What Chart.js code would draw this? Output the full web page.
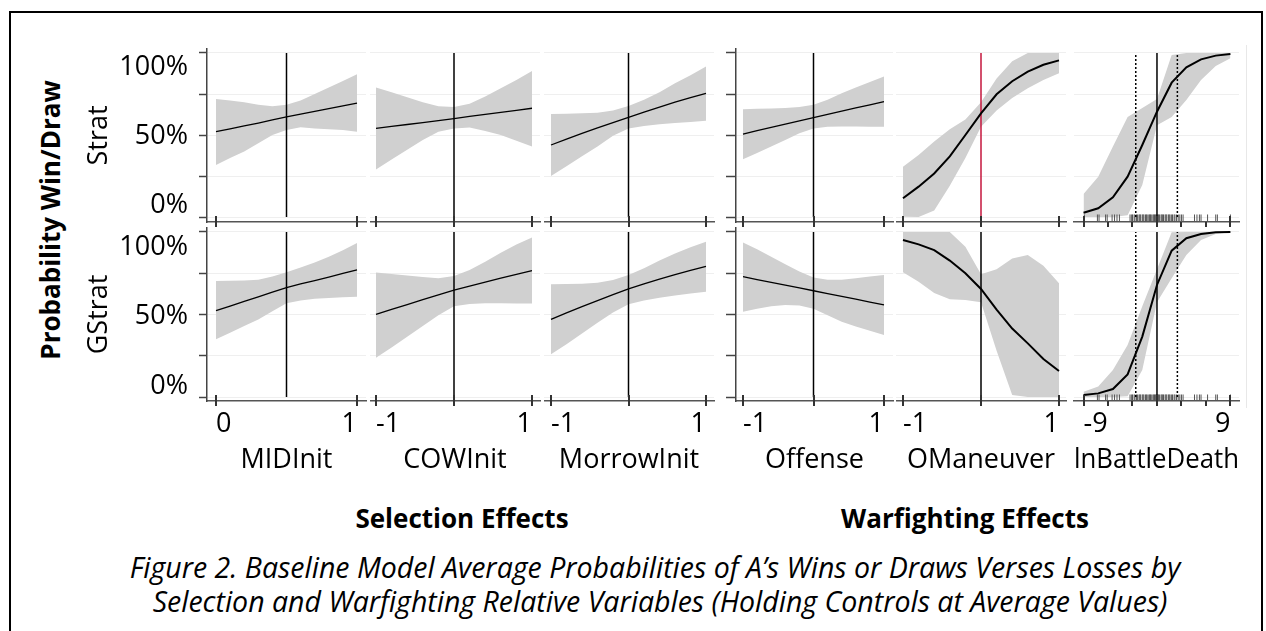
<!DOCTYPE html>
<html>
<head>
<meta charset="utf-8">
<title>Figure 2</title>
<script src="https://cdn.jsdelivr.net/npm/chart.js@4.4.1/dist/chart.umd.min.js"></script>
<style>
  html, body { margin: 0; padding: 0; background: #fff; }
  body { width: 1266px; height: 631px; position: relative; overflow: hidden; font-family: "Open Sans", sans-serif; color: #000; }
  canvas { position: absolute; }
  .frame { position: absolute; left: 9px; top: 11px; width: 1254px; height: 660px; border: 2px solid #000; box-sizing: border-box; }
  .edge { position: absolute; left: 1246px; top: 45px; width: 1px; height: 363px; background: #e8e8e8; }
  .txt { position: absolute; white-space: nowrap; transform: translate(-50%, -50%); line-height: 1; }
  .rot { transform: translate(-50%, -50%) rotate(-90deg); }
  .bold { font-weight: bold; font-size: 26px; }
  .cap { font-style: italic; font-size: 28.5px; }
</style>
</head>
<body>
<div class="frame"></div>
<div class="edge"></div>
<div class="txt rot bold" style="left:50px; top:220px;">Probability Win/Draw</div>
<div class="txt bold" style="left:462px; top:518px;">Selection Effects</div>
<div class="txt bold" style="left:965px; top:518px;">Warfighting Effects</div>
<div class="txt cap" style="left:655px; top:567px;">Figure 2. Baseline Model Average Probabilities of A’s Wins or Draws Verses Losses by</div>
<div class="txt cap" style="left:660px; top:601px;">Selection and Warfighting Relative Variables (Holding Controls at Average Values)</div>

<script>
const variables = ['MIDInit', 'COWInit', 'MorrowInit', 'Offense', 'OManeuver', 'lnBattleDeath'];
const models = ['Strat', 'GStrat'];
const yTickValues = [0, 25, 50, 75, 100];
const yLabelValues = [0, 50, 100];

// x grids the predictions were evaluated at
const midInitX = [0, 0.1, 0.2, 0.3, 0.4, 0.5, 0.6, 0.7, 0.8, 0.9, 1];
const unitX = [-1, -0.8, -0.6, -0.4, -0.2, 0, 0.2, 0.4, 0.6, 0.8, 1];
const battleDeathX = [-9, -7.2, -5.4, -3.6, -1.8, 0, 1.8, 3.6, 5.4, 7.2, 9];

// Strat row (probability %, mean / upper / lower)
const midInitStrat = [52, 53.8, 55.5, 57.3, 59.2, 61, 62.7, 64.4, 66.1, 67.8, 69.5];
const midInitStratHi = [72, 71, 70, 68.5, 67.5, 68.5, 71, 75, 79, 83, 87];
const midInitStratLo = [31.7, 36, 40, 45, 50, 53, 54.7, 54, 53.5, 53, 52];

const cowInitStrat = [54, 55.2, 56.4, 57.6, 58.8, 60, 61.3, 62.6, 63.8, 65, 66.3];
const cowInitStratHi = [79, 76, 73, 70, 67.5, 67, 69, 73.5, 78.5, 83.5, 89];
const cowInitStratLo = [29, 35, 41, 47, 52, 54, 54.5, 52.5, 50, 46.5, 43];

const morrowInitStrat = [43.9, 47.5, 51, 54.3, 57.6, 60.8, 64, 67, 70, 72.8, 75.4];
const morrowInitStratHi = [62.8, 63, 63.3, 63.6, 65, 67.7, 71.5, 76, 81.5, 86.5, 91.7];
const morrowInitStratLo = [25, 31, 37, 43, 49.5, 54, 55.5, 56.5, 57.3, 58, 58.7];

const offenseStrat = [50.6, 52.6, 54.6, 56.6, 58.6, 60.6, 62.6, 64.5, 66.5, 68.4, 70.3];
const offenseStratHi = [65.7, 66, 66.2, 66.5, 67, 68.5, 71.5, 75.5, 79, 82.3, 85.6];
const offenseStratLo = [35.2, 39, 43, 47, 51, 54, 55, 55.2, 55.2, 55.1, 55];

const oManeuverStrat = [11.4, 18.5, 26.5, 37, 50, 63.2, 74.8, 82.8, 88.6, 92.8, 95.5];
const oManeuverStratHi = [30.7, 37.8, 46, 53.5, 59.5, 70, 84.5, 95, 100, 100, 100];
const oManeuverStratLo = [0.2, 0, 4, 19, 36, 55, 65, 72.5, 78.5, 83.5, 87.6];

const battleDeathStrat = [2.6, 5.3, 12, 24.6, 43.9, 64.2, 81.9, 91.3, 96.1, 98.4, 99.4];
const battleDeathStratHi = [14, 24.6, 43, 61, 66.5, 72, 98.8, 100, 100, 100, 100];
const battleDeathStratLo = [0, 0, 0, 1, 19.5, 56, 61, 71.3, 83.5, 92, 96.8];

// GStrat row
const midInitGStrat = [52.3, 55.1, 57.9, 60.7, 63.5, 66.3, 68.5, 70.6, 72.7, 74.9, 77];
const midInitGStratHi = [70.3, 70.4, 70.6, 71, 73, 75.6, 78.5, 81.5, 85, 89, 93.3];
const midInitGStratLo = [35, 39, 43, 47, 52, 56.8, 58.5, 59.5, 60, 60.5, 60.8];

const cowInitGStrat = [50.1, 53.1, 56, 59, 61.9, 64.8, 67.2, 69.6, 72, 74.3, 76.6];
const cowInitGStratHi = [75.5, 74.6, 73.7, 72.8, 71.9, 73.3, 77, 82, 87.5, 92.5, 96.6];
const cowInitGStratLo = [23.8, 30, 36.5, 43, 49.5, 55, 56.3, 56.8, 56.8, 56.7, 56.6];

const morrowInitGStrat = [47.1, 51, 54.8, 58.4, 62, 65.5, 68.5, 71.4, 74.2, 76.8, 79.2];
const morrowInitGStratHi = [68.3, 68.5, 68.7, 69.3, 70.9, 73.9, 78, 82.8, 87, 90.8, 94.1];
const morrowInitGStratLo = [25.9, 32, 38.5, 45, 51.2, 56.2, 58.5, 60.2, 61.5, 62.8, 63.8];

const offenseGStrat = [72.9, 71.2, 69.5, 67.8, 66.1, 64.4, 62.7, 61, 59.3, 57.5, 55.8];
const offenseGStratHi = [93.7, 89.5, 85, 80.5, 76, 72.5, 71, 71, 72, 73, 73.9];
const offenseGStratLo = [51.7, 53.5, 55, 55.8, 55.5, 53.5, 49.5, 45.6, 42.8, 40.2, 37.6];

const oManeuverGStrat = [95.2, 92.5, 89, 82.7, 75, 65.5, 53, 41.5, 32.5, 23, 15.8];
const oManeuverGStratHi = [100, 100, 100, 100, 91, 74.4, 77.5, 84, 86, 79.5, 68.9];
const oManeuverGStratLo = [75.6, 69.9, 63, 59.3, 58.8, 57.4, 28, 1.2, 0, 0, 0];

const battleDeathGStrat = [1.2, 2.2, 4.8, 13.7, 36.6, 67.9, 88.7, 96.2, 98.8, 99.8, 100];
const battleDeathGStratHi = [3.2, 6.3, 16.4, 31.5, 55, 77.5, 99.8, 100, 100, 100, 100];
const battleDeathGStratLo = [0, 0, 0, 0.5, 16.4, 57.4, 72, 86, 95.2, 98.8, 99.8];

// reference lines and rug of observed lnBattleDeath
const refValues = [0.5, 0, 0, 0, 0, 0];
const battleDeathDotted = [-2.6, 2.5];
const battleDeathRug = [-8.9, -7.3, -7.1, -6.3, -6.1, -5.5, -5.2, -4.9, -4.6,
  -3.3, -3.1, -3.0, -2.8, -2.7, -2.5, -2.4, -2.2, -2.1, -2.0, -1.8, -1.7, -1.6, -1.4, -1.3,
  -1.2, -1.0, -0.9, -0.8, -0.7, -0.5, -0.4, -0.3, -0.2, -0.1, 0, 0.1, 0.2, 0.3, 0.5, 0.6,
  0.7, 0.8, 1.0, 1.1, 1.2, 1.4, 1.5, 1.6, 1.8, 1.9, 2.1, 2.2, 2.4, 2.6, 2.8, 3.0, 3.2,
  4.6, 4.9, 5.2, 5.4, 6.2, 7.2, 7.4, 9];

const xValues = [midInitX, unitX, unitX, unitX, unitX, battleDeathX];
const xTickSets = [[0, 1], [-1, 0, 1], [-1, 0, 1], [-1, 0, 1], [-1, 0, 1], [-9, -6, -3, 0, 3, 6, 9]];
const xLabelled = [[0, 1], [-1, 1], [-1, 1], [-1, 1], [-1, 1], [-9, 9]];
const xMinorTicks = [[], [], [], [], [], [-6, -3, 3, 6]];

const means = [
  [midInitStrat, cowInitStrat, morrowInitStrat, offenseStrat, oManeuverStrat, battleDeathStrat],
  [midInitGStrat, cowInitGStrat, morrowInitGStrat, offenseGStrat, oManeuverGStrat, battleDeathGStrat]
];
const highs = [
  [midInitStratHi, cowInitStratHi, morrowInitStratHi, offenseStratHi, oManeuverStratHi, battleDeathStratHi],
  [midInitGStratHi, cowInitGStratHi, morrowInitGStratHi, offenseGStratHi, oManeuverGStratHi, battleDeathGStratHi]
];
const lows = [
  [midInitStratLo, cowInitStratLo, morrowInitStratLo, offenseStratLo, oManeuverStratLo, battleDeathStratLo],
  [midInitGStratLo, cowInitGStratLo, morrowInitGStratLo, offenseGStratLo, oManeuverGStratLo, battleDeathGStratLo]
];

// page layout: axis extent L..R and where the data range sits a..b
const colBox = [
  { L: 207, R: 366, a: 216, b: 357 },
  { L: 370, R: 540, a: 376, b: 532 },
  { L: 544, R: 714, a: 551, b: 706 },
  { L: 736, R: 893, a: 743, b: 884 },
  { L: 896, R: 1066, a: 903, b: 1059 },
  { L: 1069, R: 1242, a: 1079, b: 1233 }
];
// T..B is the axis box, top/zero the 100% and 0% lines, labTop/labZero where the tick labels sit
const rowBox = [
  { T: 49, B: 222, top: 53, zero: 217, labTop: 67, labZero: 205 },
  { T: 228, B: 401, top: 232, zero: 397, labTop: 247, labZero: 386 }
];

Chart.defaults.font.family = "'Open Sans', sans-serif";
Chart.defaults.color = '#000';

const band = '#d0d0d0';
const font27 = { family: "'Open Sans', sans-serif", size: 27, lineHeight: 1.2 };

function pts(xs, ys) {
  return xs.map((x, i) => ({ x: x, y: ys[i] }));
}

function crossTicks(major, minor) {
  return {
    id: 'crossTicks',
    afterDraw(chart) {
      const ctx = chart.ctx, xs = chart.scales.x, y0 = chart.chartArea.bottom;
      ctx.save();
      ctx.strokeStyle = '#333';
      ctx.lineWidth = 2;
      ctx.beginPath();
      for (const v of major) {
        const px = Math.round(xs.getPixelForValue(v));
        ctx.moveTo(px, y0 - 6);
        ctx.lineTo(px, y0 + 5);
      }
      for (const v of minor) {
        const px = Math.round(xs.getPixelForValue(v));
        ctx.moveTo(px, y0);
        ctx.lineTo(px, y0 + 5);
      }
      ctx.stroke();
      ctx.restore();
    }
  };
}

function makePanel(row, col) {
  const c = colBox[col], r = rowBox[row];
  const xs = xValues[col];
  const tickLen = col === 0 ? 8 : (col === 3 ? 10 : 0);
  const padL = col === 0 ? 150 : tickLen;
  const padT = 6, padR = 2;
  const padB = row === 0 ? 12 : 82;

  const w = padL + (c.R - c.L) + padR;
  const h = padT + (r.B - r.T) + padB;
  const canvas = document.createElement('canvas');
  canvas.width = w;
  canvas.height = h;
  canvas.style.left = (c.L - padL) + 'px';
  canvas.style.top = (r.T - padT) + 'px';
  canvas.style.width = w + 'px';
  canvas.style.height = h + 'px';
  document.body.appendChild(canvas);

  const x0 = xs[0], x1 = xs[xs.length - 1];
  const unit = (c.b - c.a) / (x1 - x0);
  const xMin = x0 - (c.a - c.L) / unit;
  const xMax = x1 + (c.R - c.b) / unit;

  const per = (r.zero - r.top) / 100;
  const yMin = -(r.B - r.zero) / per;
  const yMax = 100 + (r.top - r.T) / per;

  const labRange = 100 * (r.B - r.T) / (r.labZero - r.labTop);
  const labMin = -(r.B - r.labZero) / (r.B - r.T) * labRange;

  const lw = col >= 4 ? 2 : 1.3;
  const refColor = (row === 0 && col === 4) ? '#c4163c' : '#000';

  const datasets = [
    { data: pts(xs, means[row][col]), borderColor: '#000', borderWidth: lw, fill: false },
    { data: [{ x: refValues[col], y: 0 }, { x: refValues[col], y: 100 }], borderColor: refColor, borderWidth: 1.5, fill: false }
  ];
  if (col === 5) {
    for (const d of battleDeathDotted) {
      datasets.push({ data: [{ x: d, y: 0 }, { x: d, y: 100 }], borderColor: '#000', borderWidth: 1.5, borderDash: [2, 2], fill: false });
    }
    datasets.push({
      data: battleDeathRug.map(v => ({ x: v, y: -0.6 })),
      showLine: false, pointStyle: 'line', pointRotation: 90, pointRadius: 3.5,
      pointBorderColor: '#555', pointBorderWidth: 1, borderColor: '#555'
    });
  }
  datasets.push({ data: pts(xs, highs[row][col]), borderColor: 'rgba(0,0,0,0)', borderWidth: 1, backgroundColor: band, fill: '+1' });
  datasets.push({ data: pts(xs, lows[row][col]), borderColor: 'rgba(0,0,0,0)', borderWidth: 1, fill: false });

  const scales = {
    x: {
      type: 'linear', position: 'bottom', min: xMin, max: xMax,
      afterBuildTicks: s => { s.ticks = xTickSets[col].map(v => ({ value: v })); },
      afterFit: s => { s.height = padB; s.paddingLeft = 0; s.paddingRight = 0; },
      grid: { display: false, drawTicks: false },
      border: { display: true, color: '#555', width: 1.5 },
      ticks: {
        display: row === 1, align: 'inner', padding: 7, maxRotation: 0, autoSkip: false,
        font: font27, color: '#000',
        callback: v => xLabelled[col].includes(v) ? String(v) : ''
      },
      title: {
        display: row === 1, text: variables[col], font: font27, color: '#000',
        padding: { top: 0, bottom: 6 }
      }
    },
    y: {
      type: 'linear', position: 'left', min: yMin, max: yMax, weight: 0,
      afterBuildTicks: s => { s.ticks = yTickValues.map(v => ({ value: v })); },
      afterFit: s => { s.width = tickLen; s.paddingTop = 0; s.paddingBottom = 0; },
      grid: { color: '#efefef', lineWidth: 1, drawTicks: tickLen > 0, tickLength: tickLen, tickColor: '#444', tickWidth: 1.5 },
      border: { display: tickLen > 0, color: '#444', width: 1.5 },
      ticks: { display: false }
    }
  };
  if (col === 0) {
    scales.yLab = {
      type: 'linear', position: 'left', min: labMin, max: labMin + labRange, weight: 1,
      afterBuildTicks: s => { s.ticks = yLabelValues.map(v => ({ value: v })); },
      afterFit: s => { s.width = padL - tickLen; s.paddingTop = 0; s.paddingBottom = 0; },
      grid: { display: false, drawTicks: false },
      border: { display: false },
      ticks: { padding: 11, font: font27, color: '#000', callback: v => v + '%' },
      title: { display: true, text: models[row], font: font27, color: '#000', padding: { top: 26, bottom: 0 } }
    };
  }

  new Chart(canvas, {
    type: 'line',
    data: { datasets: datasets },
    options: {
      responsive: false,
      animation: false,
      devicePixelRatio: 1,
      events: [],
      layout: { padding: { top: padT, right: padR, left: 0, bottom: 0 } },
      elements: { point: { radius: 0 }, line: { tension: 0 } },
      plugins: { legend: { display: false }, tooltip: { enabled: false } },
      scales: scales
    },
    plugins: [crossTicks(xTickSets[col].filter(v => !xMinorTicks[col].includes(v)), xMinorTicks[col])]
  });
}

for (let row = 0; row < models.length; row++) {
  for (let col = 0; col < variables.length; col++) {
    makePanel(row, col);
  }
}
</script>
</body>
</html>
